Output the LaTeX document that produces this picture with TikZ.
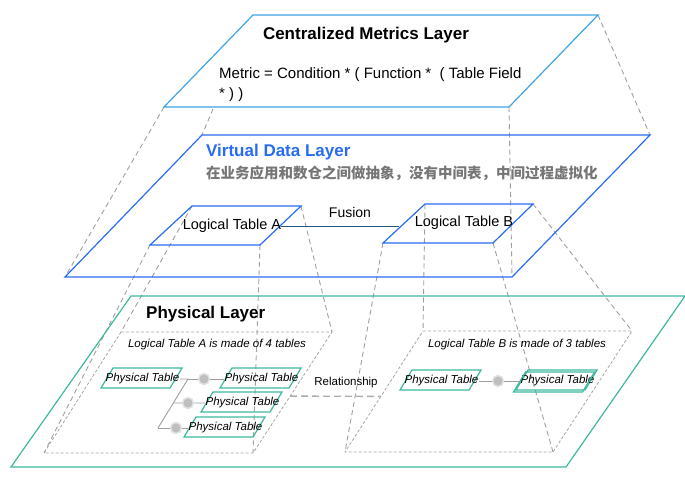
\documentclass[tikz,border=0pt]{standalone}
\usepackage{fontspec}
\setmainfont{Liberation Sans}
\newfontfamily\cjk{Noto Sans CJK SC}
\usetikzlibrary{calc}

\definecolor{topblue}{RGB}{64,164,230}
\definecolor{virblue}{RGB}{40,108,245}
\definecolor{phyteal}{RGB}{62,184,158}
\definecolor{fusline}{RGB}{40,85,130}
\definecolor{notegray}{RGB}{118,118,118}

\begin{document}
\begin{tikzpicture}[x=1pt, y=-1pt, nodes={inner sep=0pt},
    layer/.style={line width=1.2pt},
    proj/.style={draw=gray!75, line width=0.9pt, dash pattern=on 5pt off 3.5pt},
    foot/.style={draw=gray!70, line width=0.8pt, dash pattern=on 3pt off 2pt},
    ptable/.style={draw=phyteal, line width=1.2pt},
    pttext/.style={font=\itshape\fontsize{11.5}{13}\selectfont},
    relline/.style={draw=gray!75, line width=0.9pt},
    relicon/.style={circle, minimum size=11pt, fill=gray!50, draw=gray!22, line width=1.5pt},
    bigtitle/.style={font=\bfseries\fontsize{17}{20}\selectfont}]
  \useasboundingbox (0,0) rectangle (685,483);

  % corners of the layers
  \coordinate (tTL) at (253,15);  \coordinate (tTR) at (598,15);
  \coordinate (tBR) at (509,107); \coordinate (tBL) at (164,107);
  \coordinate (vTL) at (202,135); \coordinate (vTR) at (650,135);
  \coordinate (vBR) at (512,277); \coordinate (vBL) at (65,277);
  \coordinate (aTL) at (192,206); \coordinate (aTR) at (301,206);
  \coordinate (aBR) at (260,245); \coordinate (aBL) at (150,245);
  \coordinate (bTL) at (425,204); \coordinate (bTR) at (533,204);
  \coordinate (bBR) at (493,243); \coordinate (bBL) at (383,243);
  \coordinate (faTL) at (121,332); \coordinate (faTR) at (332,332);
  \coordinate (faBR) at (253,453); \coordinate (faBL) at (44,453);
  \coordinate (fbTL) at (423,331); \coordinate (fbTR) at (632,331);
  \coordinate (fbBR) at (553,452); \coordinate (fbBL) at (345,452);
  \coordinate (pTL) at (131,296); \coordinate (pTR) at (685,296);
  \coordinate (pBR) at (566,467); \coordinate (pBL) at (11,467);

  % projection lines between the layers
  \foreach \c in {TL,TR,BR,BL} {
    \draw[proj] (t\c) -- (v\c);
    \draw[proj] (a\c) -- (fa\c);
    \draw[proj] (b\c) -- (fb\c);
  }

  % physical layer
  \draw[layer, draw=phyteal] (pTL) -- (pTR) -- (pBR) -- (pBL) -- cycle;
  \draw[foot] (faTL) -- (faTR) -- (faBR) -- (faBL) -- cycle;
  \draw[foot] (fbTL) -- (fbTR) -- (fbBR) -- (fbBL) -- cycle;
  \node[bigtitle, anchor=west] (phyTitle) at (146,314) {Physical Layer};
  \node[pttext] (noteA) at (217,345) {Logical Table A is made of 4 tables};
  \node[pttext] (noteB) at (517,345) {Logical Table B is made of 3 tables};

  % virtual data layer
  \draw[layer, draw=virblue] (vTL) -- (vTR) -- (vBR) -- (vBL) -- cycle;
  \draw[layer, draw=virblue] (aTL) -- (aTR) -- (aBR) -- (aBL) -- cycle;
  \draw[layer, draw=virblue] (bTL) -- (bTR) -- (bBR) -- (bBL) -- cycle;
  \node[bigtitle, text=virblue, anchor=west] (virTitle) at (206,152) {Virtual Data Layer};
  \node[font=\cjk\bfseries\fontsize{14.5}{16}\selectfont, text=notegray, anchor=west]
    (virNote) at (206,173) {在业务应用和数仓之间做抽象，没有中间表，中间过程虚拟化};
  \node[font=\fontsize{14.5}{16}\selectfont] (logA) at (232,226) {Logical Table A};
  \node[font=\fontsize{14.5}{16}\selectfont] (logB) at (464,223) {Logical Table B};
  \node[font=\fontsize{14}{16}\selectfont] (fusion) at (350,212) {Fusion};
  \coordinate (fusB) at (399,226);
  \draw[fusline, line width=1pt] (logA.east) -- (fusB);

  % centralized metrics layer
  \draw[layer, draw=topblue, fill=white] (tTL) -- (tTR) -- (tBR) -- (tBL) -- cycle;
  \node[bigtitle] (topTitle) at (366,35) {Centralized Metrics Layer};
  \node[font=\fontsize{15}{20}\selectfont, align=left, anchor=base west] (formula)
    at (219,98.5) {Metric = Condition * ( Function *\ \ ( Table Field\\* ) )};

  % physical tables
  \foreach \nm/\cx/\cy in {pa1/141/378, pa2/260/378, pa3/241/402,
                           pa4/224/427, pb1/440/380, pb2/556/380} {
    \draw[ptable] (\cx-28,\cy-10) -- ++(69,0) -- ++(-12,20) -- ++(-69,0) -- cycle;
    \node[pttext] (\nm) at (\cx+1.5,\cy+1) {Physical Table};
  }
  \draw[ptable, shift={(-2.5,2)}] (528,370) -- ++(69,0) -- ++(-12,20) -- ++(-69,0) -- cycle;

  % relations between the physical tables
  \node[relicon] (relA1) at (204,379) {};
  \node[relicon] (relA2) at (188,403) {};
  \node[relicon] (relA3) at (176,428) {};
  \node[relicon] (relB1) at (498,381) {};
  \coordinate (jA) at (188,379);
  \coordinate (jC) at (158,428);
  \coordinate (jB) at (intersection of jA--jC and relA2--pa3.west);
  \draw[relline] (pa1.east) -- (jA) -- (jC);
  \draw[relline] (jA) -- (relA1) -- (pa2.west);
  \draw[relline] (jB) -- (relA2) -- (pa3.west);
  \draw[relline] (jC) -- (relA3) -- (pa4.west);
  \draw[relline] (pb1.east) -- (relB1) -- (pb2.west);

  % relationship between the logical tables
  \coordinate (rA) at ($(faTR)!0.53!(faBR)$);
  \coordinate (rB) at ($(fbTL)!0.54!(fbBL)$);
  \draw[draw=gray!65, line width=1.4pt, dash pattern=on 7pt off 4pt] (rA) -- (rB);
  \node[font=\fontsize{11.5}{13}\selectfont] (relText) at (346,383) {Relationship};
\end{tikzpicture}
\end{document}
